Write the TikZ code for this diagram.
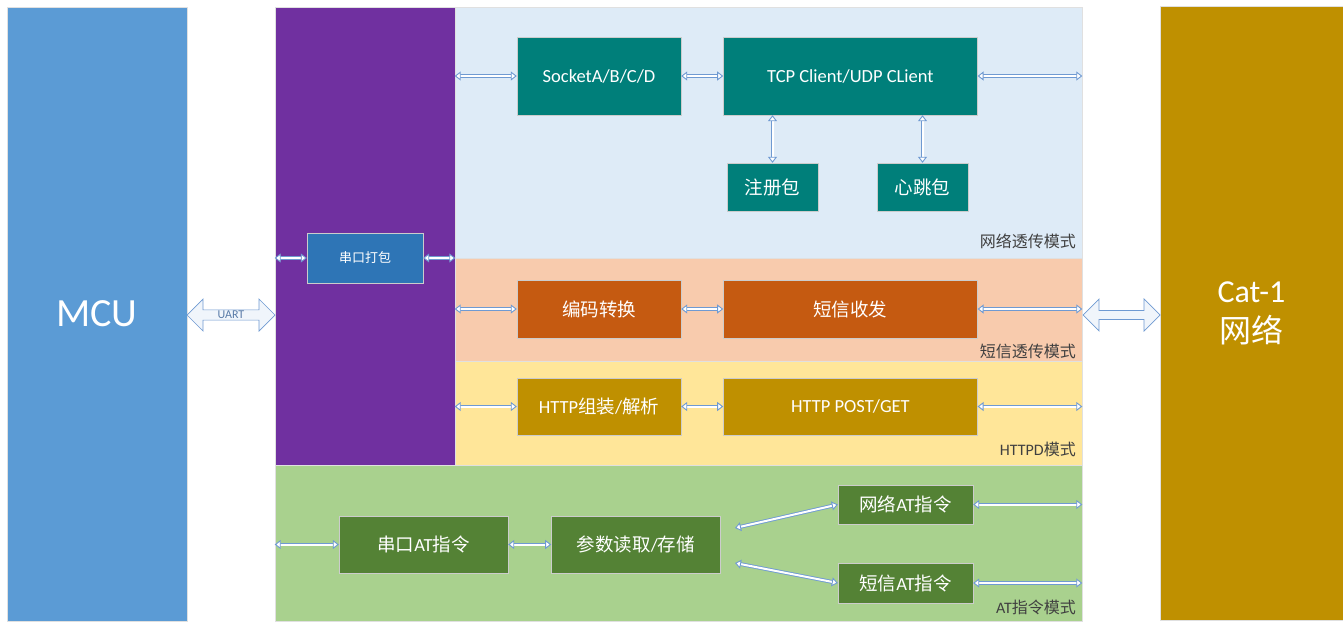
\documentclass[tikz,border=0pt]{standalone}
\usepackage{fontspec}
\setmainfont{Carlito}
\newfontfamily\zhfont{Noto Sans CJK SC}
\newcommand\zh[1]{{\zhfont #1}}
\usetikzlibrary{positioning,arrows.meta,shapes.arrows}

\definecolor{mcublue}{HTML}{5B9BD5}
\definecolor{packpurple}{HTML}{7030A0}
\definecolor{netbg}{HTML}{DEEBF7}
\definecolor{smsbg}{HTML}{F8CBAD}
\definecolor{httpbg}{HTML}{FFE699}
\definecolor{atbg}{HTML}{A9D18E}
\definecolor{tealbox}{HTML}{007F7A}
\definecolor{packblue}{HTML}{2E75B6}
\definecolor{orangebox}{HTML}{C55A11}
\definecolor{goldbox}{HTML}{BF9000}
\definecolor{greenbox}{HTML}{548235}
\definecolor{linkblue}{HTML}{6F9AD2}
\definecolor{arrowfill}{HTML}{F0F5FB}

\tikzset{
  >={Triangle[open, fill=white, length=6pt, width=9pt]},
  panel/.style={draw=black!12, line width=0.6pt, inner sep=0pt},
  blk/.style={inner sep=0pt, text=white, draw=white!60!gray, line width=0.4pt,
    font=\fontsize{18.5}{22}\selectfont},
  link/.style={draw=linkblue, double=white, double distance=2pt, line width=0.9pt, <->},
  bigarrow/.style={double arrow, draw=linkblue, fill=arrowfill, line width=0.7pt,
    double arrow head extend=9pt, inner sep=0pt},
  modelabel/.style={anchor=east, inner sep=0pt, text=black!75,
    font=\fontsize{16}{18}\selectfont}
}

\begin{document}
\begin{tikzpicture}[x=1pt,y=-1pt]
                \useasboundingbox (0,0) rectangle (1343,621);

                % background panels
                \node[panel, fill=mcublue, minimum width=180, minimum height=614,
                    text=white, font=\fontsize{40}{44}\selectfont] (mcu) at (97,314) {MCU};
                \node[panel, fill=packpurple, minimum width=180, minimum height=458] (pk) at (365,236) {};
                \node[panel, fill=netbg, minimum width=627, minimum height=251] (net) at (768.5,132.5) {};
                \node[panel, fill=smsbg, minimum width=627, minimum height=103] (smsp) at (768.5,309.5) {};
                \node[panel, fill=httpbg, minimum width=627, minimum height=104] (httpp) at (768.5,413) {};
                \node[panel, fill=atbg, minimum width=807, minimum height=156] (atp) at (678.5,543) {};
                \node[panel, fill=goldbox, minimum width=183, minimum height=614, align=center,
                    text=white, font=\fontsize{32}{40}\selectfont] (cat) at (1251.5,313) {Cat-1\\\zh{网络}};

                % mode labels
                \node[modelabel] (netlbl) at (1076,241) {\zh{网络透传模式}};
                \node[modelabel] (smslbl) at (1076,351) {\zh{短信透传模式}};
                \node[modelabel] (httplbl) at (1076,449) {HTTPD\zh{模式}};
                \node[modelabel] (atlbl) at (1076,607) {AT\zh{指令模式}};

                % blocks
                \node[blk, fill=tealbox, minimum width=164, minimum height=78] (sock) at (599,76) {SocketA/B/C/D};
                \node[blk, fill=tealbox, minimum width=254, minimum height=78, right=42 of sock] (tcp) {TCP Client/UDP CLient};
                \node[blk, fill=tealbox, minimum width=91, minimum height=48] (reg) at (772.5,187) {\zh{注册包}};
                \node[blk, fill=tealbox, minimum width=91, minimum height=48] (beat) at (922.5,187) {\zh{心跳包}};
                \node[blk, fill=packblue, minimum width=116, minimum height=50,
                    font=\fontsize{13}{15}\selectfont] (pack) at (365,258) {\zh{串口打包}};
                \node[blk, fill=orangebox, minimum width=164, minimum height=58] (enc) at (599,309) {\zh{编码转换}};
                \node[blk, fill=orangebox, minimum width=254, minimum height=58, right=42 of enc] (smsio) {\zh{短信收发}};
                \node[blk, fill=goldbox, minimum width=164, minimum height=57] (hbuild) at (599,406.5) {HTTP\zh{组装}/\zh{解析}};
                \node[blk, fill=goldbox, minimum width=254, minimum height=57, right=42 of hbuild] (hpost) {HTTP POST/GET};
                \node[blk, fill=greenbox, minimum width=169, minimum height=57] (uat) at (423.5,544.5) {\zh{串口}AT\zh{指令}};
                \node[blk, fill=greenbox, minimum width=169, minimum height=57, right=43 of uat] (param) {\zh{参数读取}/\zh{存储}};
                \node[blk, fill=greenbox, minimum width=135, minimum height=39] (nat) at (905.5,504.5) {\zh{网络}AT\zh{指令}};
                \node[blk, fill=greenbox, minimum width=135, minimum height=40] (sat) at (905.5,583) {\zh{短信}AT\zh{指令}};

                % big arrows
                \node[bigarrow, minimum height=88, minimum width=32, text=linkblue!80!black,
                    font=\fontsize{12}{14}\selectfont] (uart) at (231,315) {UART};
                \node[bigarrow, minimum height=77, minimum width=32] (catlink) at (1121.5,315) {\phantom{UART}};

                \coordinate (pn) at (735,528);
                \coordinate (ps) at (735,563);

                % links
                \draw[link] (sock.west -| net.west) -- (sock.west);
                \draw[link] (sock) -- (tcp);
                \draw[link] (tcp.east) -- (tcp.east -| net.east);
                \draw[link] (tcp.south -| reg) -- (reg.north);
                \draw[link] (tcp.south -| beat) -- (beat.north);
                \draw[link] (pack.west -| pk.west) -- (pack.west);
                \draw[link] (pack.east) -- (pack.east -| pk.east);
                \draw[link] (enc.west -| smsp.west) -- (enc.west);
                \draw[link] (enc) -- (smsio);
                \draw[link] (smsio.east) -- (smsio.east -| smsp.east);
                \draw[link] (hbuild.west -| httpp.west) -- (hbuild.west);
                \draw[link] (hbuild) -- (hpost);
                \draw[link] (hpost.east) -- (hpost.east -| httpp.east);
                \draw[link] (uat.west -| atp.west) -- (uat.west);
                \draw[link] (uat) -- (param);
                \draw[link] (pn) -- (nat.west);
                \draw[link] (ps) -- (sat.west);
                \draw[link] (nat.east) -- (nat.east -| atp.east);
                \draw[link] (sat.east) -- (sat.east -| atp.east);
            \end{tikzpicture}
\end{document}
